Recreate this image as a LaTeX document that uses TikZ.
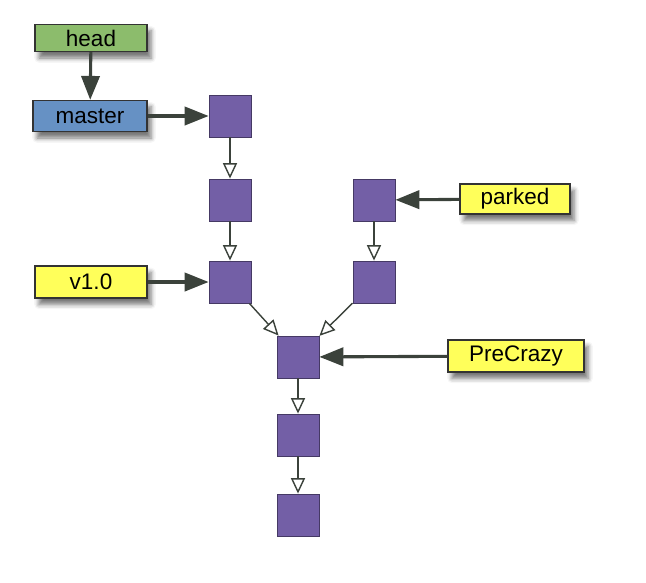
\documentclass[tikz,border=0pt]{standalone}
\usepackage{fontspec}
\setmainfont{Liberation Sans}
\usetikzlibrary{arrows.meta,positioning,shadows.blur}
\definecolor{headgreen}{HTML}{8CBC6C}
\definecolor{masterblue}{HTML}{6691C4}
\definecolor{tagyellow}{HTML}{FFFF5A}
\definecolor{commitpurple}{HTML}{735FA6}
\definecolor{arrowgray}{HTML}{3B423B}

\begin{document}
\begin{tikzpicture}[
  ref/.style={draw=black!80,line width=0.8pt,fill=#1,minimum width=2.8cm,
    minimum height=0.75cm,inner sep=0pt,font=\fontsize{16}{19}\selectfont,
    blur shadow={shadow xshift=0.1cm,shadow yshift=-0.16cm,shadow opacity=55,
      shadow blur radius=0.12cm}},
  commit/.style={draw=commitpurple!60!black,line width=0.6pt,fill=commitpurple,
    minimum size=1.05cm,inner sep=0pt},
  refarrow/.style={draw=arrowgray,line width=2.2pt,
    -{Triangle[length=17pt,width=13pt]}},
  parent/.style={draw=arrowgray,line width=1pt,
    -{Triangle[open,length=11pt,width=10pt,fill=white]}},
]
  \useasboundingbox (0,0) rectangle (16.15,-14.55);
  \node[ref=headgreen,minimum height=0.68cm] (head) at (2.275,-0.95) {head};
  \node[ref=masterblue,minimum width=2.85cm,minimum height=0.78cm] (master) at (2.25,-2.9) {master};
  \node[ref=tagyellow,minimum height=0.8cm] (v10) at (2.275,-7.05) {v1.0};
  \node[ref=tagyellow,minimum width=2.75cm] (parked) at (12.875,-4.975) {parked};
  \node[ref=tagyellow,minimum width=3.4cm,minimum height=0.8cm] (precrazy) at (12.9,-8.9) {PreCrazy};
  \node[commit] (c1) at (5.75,-2.9) {};
  \node[commit] (c2) at (5.75,-5.0) {};
  \node[commit] (c3) at (5.75,-7.05) {};
  \node[commit] (p1) at (9.35,-5.0) {};
  \node[commit] (p2) at (9.35,-7.05) {};
  \node[commit] (m) at (7.45,-8.925) {};
  \node[commit] (d1) at (7.45,-10.875) {};
  \node[commit] (d2) at (7.45,-12.875) {};
  \draw[refarrow] (head) -- (master);
  \draw[refarrow] (master) -- (c1);
  \draw[refarrow] (v10) -- (c3);
  \draw[refarrow] (parked) -- (p1);
  \draw[refarrow] (precrazy) -- (m);
  \draw[parent] (c1) -- (c2);
  \draw[parent] (c2) -- (c3);
  \draw[parent] (p1) -- (p2);
  \draw[parent] (c3) -- (m);
  \draw[parent] (p2) -- (m);
  \draw[parent] (m) -- (d1);
  \draw[parent] (d1) -- (d2);
\end{tikzpicture}
\end{document}
